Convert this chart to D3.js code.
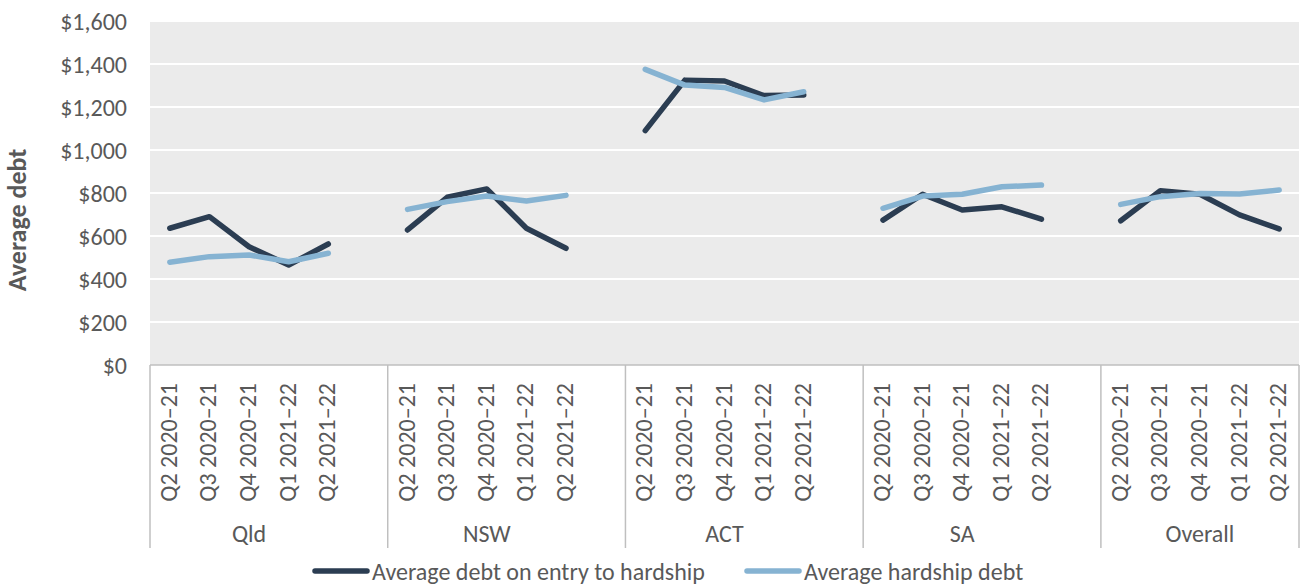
<!DOCTYPE html>
<html>
<head>
<meta charset="utf-8">
<script src="https://cdn.jsdelivr.net/npm/d3@7"></script>
<style>
  html, body { margin: 0; padding: 0; background: #ffffff; }
  svg { display: block; font-family: Carlito, Calibri, Lato, sans-serif; }
</style>
</head>
<body>
<svg id="chart" width="1306" height="586"></svg>
<script>
// Regions and quarters shown on the two-level category axis
const regions = ["Qld", "NSW", "ACT", "SA", "Overall"];
const quarters = ["Q2 2020\u201321", "Q3 2020\u201321", "Q4 2020\u201321", "Q1 2021\u201322", "Q2 2021\u201322"];

// Average debt on entry to hardship, per region (one value per quarter)
const entryDebt = [
  [636, 690, 550, 465, 563],
  [628, 780, 819, 636, 543],
  [1090, 1325, 1321, 1253, 1256],
  [674, 794, 721, 736, 678],
  [671, 811, 794, 698, 633]
];
// Average hardship debt, per region
const hardshipDebt = [
  [478, 504, 512, 480, 520],
  [724, 760, 786, 763, 789],
  [1375, 1302, 1291, 1233, 1271],
  [729, 786, 794, 829, 837],
  [747, 783, 798, 795, 814]
];

const yTicks = [0, 200, 400, 600, 800, 1000, 1200, 1400, 1600];
const seriesNames = ["Average debt on entry to hardship", "Average hardship debt"];
const seriesColors = ["#2b3d52", "#86b3d2"];

const svg = d3.select("#chart");
const plotLeft = 150, plotRight = 1299, plotTop = 21, plotBottom = 365;
const fontSize = "24px";
const textColor = "#595959";

// Each region takes 6 slots (5 quarters + a spacer); the last one has no spacer
const slotsPerRegion = quarters.length + 1;
const totalSlots = regions.length * slotsPerRegion - 1;
const x = d3.scaleLinear().domain([0, totalSlots]).range([plotLeft, plotRight]);
const y = d3.scaleLinear().domain([0, 1600]).range([plotBottom, plotTop]);
const slotCenter = (g, q) => x(g * slotsPerRegion + q + 0.5);

// Plot background
svg.append("rect")
  .attr("x", plotLeft).attr("y", plotTop)
  .attr("width", plotRight - plotLeft).attr("height", plotBottom - plotTop)
  .attr("fill", "#ebebeb");

// Horizontal gridlines
svg.append("g")
  .selectAll("line")
  .data(yTicks.filter(t => t > 0))
  .join("line")
  .attr("x1", plotLeft).attr("x2", plotRight)
  .attr("y1", d => y(d)).attr("y2", d => y(d))
  .attr("stroke", "#ffffff").attr("stroke-width", 2);

// Y axis labels
const yAxis = d3.axisLeft(y)
  .tickValues(yTicks)
  .tickSize(0)
  .tickPadding(0)
  .tickFormat(d => "$" + d3.format(",")(d));
const yg = svg.append("g").attr("transform", `translate(${plotLeft - 23},0)`).call(yAxis);
yg.select(".domain").remove();
yg.selectAll("text")
  .attr("fill", textColor)
  .attr("dy", "0.34em")
  .style("font-size", fontSize)
  .style("font-family", "Carlito, Calibri, Lato, sans-serif");

// Y axis title
svg.append("text")
  .attr("transform", `translate(26,220) rotate(-90)`)
  .attr("text-anchor", "middle")
  .attr("fill", textColor)
  .style("font-size", "26px")
  .style("font-weight", "bold")
  .text("Average debt");

// Category axis frame: baseline and group separators
const axisColor = "#bfbfbf";
const frameBottom = 548;
svg.append("line")
  .attr("x1", plotLeft).attr("x2", plotRight)
  .attr("y1", plotBottom).attr("y2", plotBottom)
  .attr("stroke", axisColor).attr("stroke-width", 1.5);
const separators = regions.map((r, i) => x(i * slotsPerRegion)).concat([plotRight]);
svg.append("g")
  .selectAll("line")
  .data(separators)
  .join("line")
  .attr("x1", d => d).attr("x2", d => d)
  .attr("y1", plotBottom).attr("y2", frameBottom)
  .attr("stroke", axisColor).attr("stroke-width", 1.5);

// Quarter labels (rotated)
const quarterLabels = [];
regions.forEach((r, g) => quarters.forEach((q, i) => quarterLabels.push({ g, i, q })));
svg.append("g")
  .selectAll("text")
  .data(quarterLabels)
  .join("text")
  .attr("transform", d => `translate(${slotCenter(d.g, d.i) + 7},383) rotate(-90)`)
  .attr("text-anchor", "end")
  .attr("fill", textColor)
  .style("font-size", fontSize)
  .text(d => d.q);

// Region labels
svg.append("g")
  .selectAll("text")
  .data(regions)
  .join("text")
  .attr("x", (d, g) => (slotCenter(g, 0) + slotCenter(g, quarters.length - 1)) / 2)
  .attr("y", 542)
  .attr("text-anchor", "middle")
  .attr("fill", textColor)
  .style("font-size", fontSize)
  .text(d => d);

// Lines: one path per region per series
const line = d3.line()
  .x(d => slotCenter(d.g, d.i))
  .y(d => y(d.v));
[entryDebt, hardshipDebt].forEach((series, s) => {
  svg.append("g")
    .selectAll("path")
    .data(series.map((vals, g) => vals.map((v, i) => ({ g, i, v }))))
    .join("path")
    .attr("d", line)
    .attr("fill", "none")
    .attr("stroke", seriesColors[s])
    .attr("stroke-width", 5.5)
    .attr("stroke-linejoin", "round")
    .attr("stroke-linecap", "round");
});

// Legend
const legendItems = [
  { name: seriesNames[0], color: seriesColors[0], x: 315 },
  { name: seriesNames[1], color: seriesColors[1], x: 747 }
];
const lg = svg.append("g")
  .selectAll("g")
  .data(legendItems)
  .join("g")
  .attr("transform", d => `translate(${d.x},571)`);
lg.append("line")
  .attr("x1", 0).attr("x2", 52)
  .attr("stroke", d => d.color)
  .attr("stroke-width", 5.5)
  .attr("stroke-linecap", "round");
lg.append("text")
  .attr("x", 57).attr("y", 9)
  .attr("fill", textColor)
  .style("font-size", fontSize)
  .text(d => d.name);
</script>
</body>
</html>
